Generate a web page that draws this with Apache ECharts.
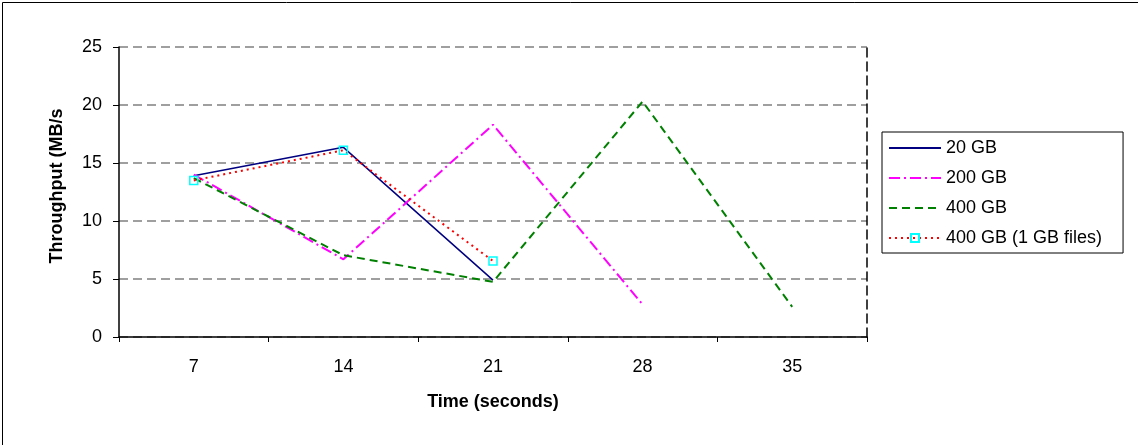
<!DOCTYPE html>
<html>
<head>
<meta charset="utf-8">
<script src="https://cdn.jsdelivr.net/npm/echarts@6/dist/echarts.min.js"></script>
<style>
html,body{margin:0;padding:0;background:#fff;}
#c{width:1138px;height:445px;}
</style>
</head>
<body>
<div id="c"></div>
<script>
var categories = ['7', '14', '21', '28', '35'];
var s20GB = [13.9, 16.35, 4.9, null, null];
var s200GB = [14.0, 6.7, 18.3, 2.8, null];
var s400GB = [13.7, 7.05, 4.75, 20.3, 2.6];
var s400GB1 = [13.5, 16.1, 6.55, null, null];
var seriesNames = ['20 GB', '200 GB', '400 GB', '400 GB (1 GB files)'];
var yTicks = {min: 0, max: 25, interval: 5};
var xTitle = 'Time (seconds)';
var yTitle = 'Throughput (MB/s';

var FONT = '"Liberation Sans", Arial, sans-serif';
var chart = echarts.init(document.getElementById('c'), null, {renderer: 'canvas'});
chart.setOption({
  animation: false,
  backgroundColor: '#fff',
  textStyle: {fontFamily: FONT, color: '#000'},
  graphic: [{
    type: 'rect', left: 0, top: 0, silent: true,
    shape: {x: 0.5, y: 0.5, width: 1137, height: 444},
    style: {fill: 'none', stroke: '#000', lineWidth: 1}
  }],
  grid: {left: 119, right: 271, top: 47, bottom: 108, containLabel: false},
  legend: {
    orient: 'vertical',
    left: 882, top: 132,
    padding: [7, 21, 6, 6],
    itemWidth: 52, itemHeight: 10, itemGap: 12,
    borderColor: '#000', borderWidth: 1,
    backgroundColor: '#fff',
    textStyle: {fontFamily: FONT, fontSize: 18, lineHeight: 18, color: '#000', padding: [0, 0, 0, 0]},
    data: [
      {name: seriesNames[0], itemStyle: {opacity: 0}},
      {name: seriesNames[1], itemStyle: {opacity: 0}},
      {name: seriesNames[2], itemStyle: {opacity: 0}},
      {name: seriesNames[3]}
    ]
  },
  xAxis: {
    type: 'category',
    data: categories,
    boundaryGap: true,
    name: xTitle,
    nameLocation: 'middle',
    nameGap: 56,
    nameTextStyle: {fontFamily: FONT, fontSize: 18, fontWeight: 'bold', color: '#000'},
    axisLine: {lineStyle: {color: '#000', width: 1.5}},
    axisTick: {show: true, length: 5, inside: false, lineStyle: {color: '#000'}},
    axisLabel: {fontFamily: FONT, fontSize: 18, color: '#000', margin: 21},
    splitLine: {show: false}
  },
  yAxis: [{
    type: 'value',
    min: yTicks.min, max: yTicks.max, interval: yTicks.interval,
    name: yTitle,
    nameLocation: 'middle',
    nameGap: 53,
    nameRotate: 90,
    nameTextStyle: {fontFamily: FONT, fontSize: 18, fontWeight: 'bold', color: '#000', padding: [0, 0, 0, 12]},
    axisLine: {show: true, lineStyle: {color: '#000', width: 1.5}},
    axisTick: {show: true, length: 6, lineStyle: {color: '#000'}},
    axisLabel: {fontFamily: FONT, fontSize: 18, color: '#000', margin: 17},
    splitLine: {show: true, lineStyle: {color: '#808080', width: 1.5, type: [9, 5]}}
  }, {
    type: 'value', position: 'right',
    min: yTicks.min, max: yTicks.max, interval: yTicks.interval,
    axisLine: {show: true, lineStyle: {color: '#000', width: 1.5, type: [9, 5]}},
    axisTick: {show: false}, axisLabel: {show: false}, splitLine: {show: false}
  }],
  series: [{
    name: seriesNames[0], type: 'line', data: s20GB,
    symbol: 'none', connectNulls: false,
    itemStyle: {color: '#000080'},
    lineStyle: {color: '#000080', width: 1.5, type: 'solid'}
  }, {
    name: seriesNames[1], type: 'line', data: s200GB,
    symbol: 'none',
    itemStyle: {color: '#FF00FF'},
    lineStyle: {color: '#FF00FF', width: 2, type: [11, 4, 2, 4]}
  }, {
    name: seriesNames[2], type: 'line', data: s400GB,
    symbol: 'none',
    itemStyle: {color: '#008000'},
    lineStyle: {color: '#008000', width: 2, type: [8, 5]}
  }, {
    name: seriesNames[3], type: 'line', data: s400GB1,
    symbol: 'rect', symbolSize: 8, showSymbol: true,
    itemStyle: {color: 'rgba(255,255,255,0)', borderColor: '#00FFFF', borderWidth: 1.5},
    lineStyle: {color: '#FF0000', width: 2, type: [2, 4]},
    z: 5
  }]
});
</script>
</body>
</html>
